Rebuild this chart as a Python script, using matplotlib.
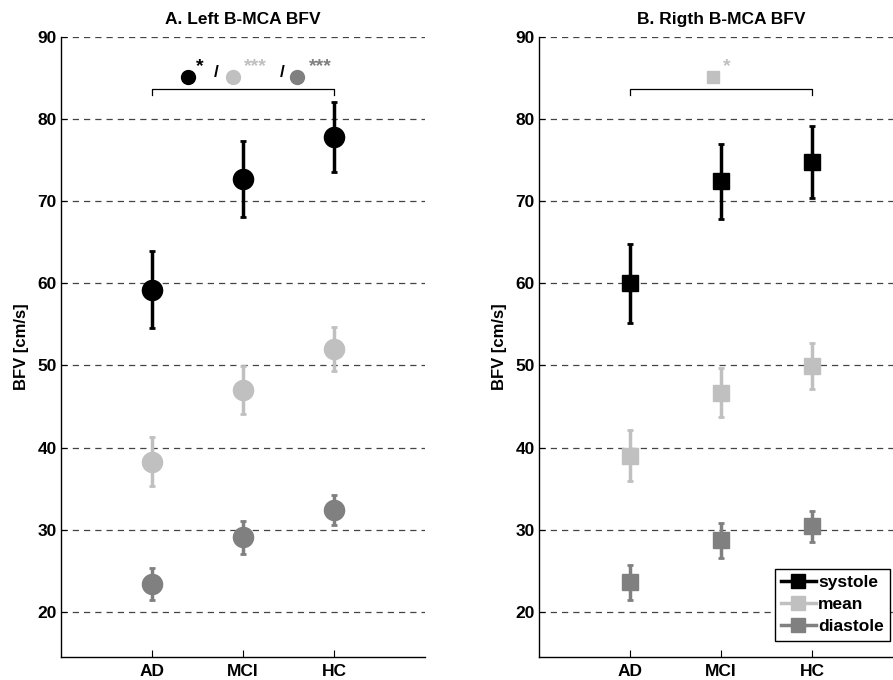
import matplotlib.pyplot as plt
from matplotlib.lines import Line2D
import numpy as np

plt.rcParams['font.family'] = ['Liberation Sans', 'DejaVu Sans']
plt.rcParams['font.weight'] = 'bold'

groups = ["AD", "MCI", "HC"]

# left B-MCA: mean value and half-length of the error bar
left_sys = [59.2, 72.7, 77.8]
left_sys_err = [4.7, 4.6, 4.3]
left_mean = [38.3, 47.0, 52.0]
left_mean_err = [3.0, 2.9, 2.7]
left_dia = [23.4, 29.1, 32.4]
left_dia_err = [1.9, 2.0, 1.8]

# right B-MCA
right_sys = [60.0, 72.4, 74.8]
right_sys_err = [4.8, 4.6, 4.4]
right_mean = [39.0, 46.7, 49.9]
right_mean_err = [3.1, 3.0, 2.8]
right_dia = [23.6, 28.7, 30.4]
right_dia_err = [2.1, 2.1, 1.9]

c_sys = "black"
c_mean = "#c0c0c0"
c_dia = "#808080"

fig = plt.figure(figsize=(8.93, 6.8), dpi=100)
ax1 = fig.add_axes([0.0683, 0.0338, 0.4076, 0.912])
ax2 = fig.add_axes([0.6036, 0.0338, 0.4076, 0.912])

x = np.arange(1, len(groups) + 1)


def draw_panel(ax, series, marker, ms, title):
    for vals, errs, col in series:
        ax.errorbar(x, vals, yerr=errs, fmt=marker, color=col, ms=ms,
                    elinewidth=2.5, capsize=2, capthick=2, zorder=3)
    ax.set_xlim(0, 4)
    ax.set_ylim(14.5, 90)
    ax.set_xticks(x)
    ax.set_xticklabels(groups, fontsize=12.5, fontweight='bold')
    ax.set_yticks(range(20, 91, 10))
    ax.tick_params(axis='y', labelsize=12.5, direction='in', length=4, pad=3)
    ax.tick_params(axis='x', direction='in', length=5, pad=5)
    for lab in ax.get_yticklabels():
        lab.set_fontweight('bold')
    ax.yaxis.grid(True, linestyle=(0, (5, 4)), color='#444444', linewidth=0.9)
    ax.set_axisbelow(True)
    ax.spines['top'].set_visible(False)
    ax.spines['right'].set_visible(False)
    ax.spines['left'].set_linewidth(1.0)
    ax.spines['bottom'].set_linewidth(1.0)
    ax.set_ylabel("BFV [cm/s]", fontsize=12, fontweight='bold', labelpad=6)
    ax.set_title(title, fontsize=12.5, fontweight='bold', pad=9)
    # significance bracket AD vs HC
    ax.plot([1, 1, 3, 3], [82.9, 83.6, 83.6, 82.9], color='black', lw=0.9)


draw_panel(ax1, [(left_sys, left_sys_err, c_sys),
                 (left_mean, left_mean_err, c_mean),
                 (left_dia, left_dia_err, c_dia)],
           'o', 14.5, "A. Left B-MCA BFV")
draw_panel(ax2, [(right_sys, right_sys_err, c_sys),
                 (right_mean, right_mean_err, c_mean),
                 (right_dia, right_dia_err, c_dia)],
           's', 12, "B. Rigth B-MCA BFV")

# significance labels
ax1.plot(1.40, 85.1, 'o', color=c_sys, ms=10, clip_on=False)
ax1.text(1.52, 86.4, "*", color=c_sys, fontsize=14, ha='center', va='center')
ax1.text(1.71, 85.6, "/", color='black', fontsize=12.5, ha='center', va='center')
ax1.plot(1.89, 85.1, 'o', color=c_mean, ms=10, clip_on=False)
ax1.text(2.14, 86.4, "***", color=c_mean, fontsize=14, ha='center', va='center')
ax1.text(2.43, 85.6, "/", color='black', fontsize=12.5, ha='center', va='center')
ax1.plot(2.59, 85.1, 'o', color=c_dia, ms=10, clip_on=False)
ax1.text(2.85, 86.4, "***", color=c_dia, fontsize=14, ha='center', va='center')

ax2.plot(1.91, 85.1, 's', color=c_mean, ms=9, clip_on=False)
ax2.text(2.06, 86.4, "*", color=c_mean, fontsize=14, ha='center', va='center')

handles = [Line2D([], [], color=c, marker='s', ms=10, lw=2.5)
           for c in (c_sys, c_mean, c_dia)]
leg = ax2.legend(handles, ["systole", "mean", "diastole"], loc='lower right',
                 bbox_to_anchor=(0.9966, 0.058), bbox_transform=fig.transFigure,
                 fancybox=False, edgecolor='black', framealpha=1,
                 prop={'weight': 'bold', 'size': 12.5}, handlelength=2.0,
                 handletextpad=0.15, borderpad=0.35, labelspacing=0.4,
                 borderaxespad=0)
leg.get_frame().set_linewidth(1.0)

fig.savefig("out.png", dpi=100)
